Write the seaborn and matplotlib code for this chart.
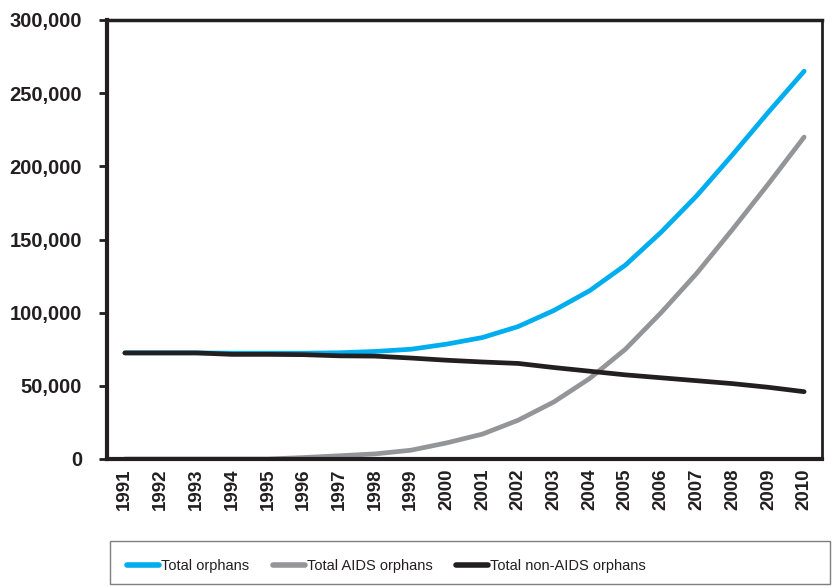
import matplotlib
matplotlib.use("Agg")
import matplotlib.pyplot as plt
import matplotlib.ticker as mticker
from matplotlib import font_manager
from matplotlib.patches import Rectangle
import numpy as np
import pandas as pd
import seaborn as sns

years = [str(y) for y in range(1991, 2011)]
total_orphans = [72500, 72500, 72500, 72300, 72300, 72300, 72600, 73500, 75000, 78500,
                 83000, 90500, 101500, 115000, 132500, 155000, 180000, 208000, 237000, 265000]
aids_orphans = [0, 0, 0, 0, 0, 1000, 2200, 3500, 6000, 11000,
                17000, 26500, 39000, 55000, 75000, 100000, 127000, 157000, 188000, 220000]
non_aids_orphans = [72500, 72500, 72500, 71500, 71500, 71300, 70500, 70300, 69000, 67500,
                    66300, 65300, 62500, 60000, 57500, 55500, 53500, 51500, 49000, 46000]
series_names = ["Total orphans", "Total AIDS orphans", "Total non-AIDS orphans"]
colors = ["#00AEEF", "#939598", "#231F20"]

df = pd.concat([
    pd.DataFrame({"year": np.arange(len(years)), "value": vals, "series": name})
    for name, vals in zip(series_names, [total_orphans, aids_orphans, non_aids_orphans])
])

sns.set_style("white")
plt.rcParams["font.family"] = ["Liberation Sans", "DejaVu Sans"]

installed = {f.name for f in font_manager.fontManager.ttflist}
if "Liberation Sans Narrow" in installed:
    legend_prop = {"family": "Liberation Sans Narrow", "size": 12.5}
else:
    legend_prop = {"family": "Liberation Sans", "size": 10.5}

fig = plt.figure(figsize=(8.32, 5.86), dpi=100)
ax = fig.add_axes([107 / 832, 1 - 459 / 586, 715 / 832, 439 / 586])

sns.lineplot(data=df, x="year", y="value", hue="series", hue_order=series_names,
             palette=colors, linewidth=3.4, ax=ax, legend=False,
             solid_capstyle="round")

ax.set_xlim(-0.5, len(years) - 0.5)
ax.set_ylim(0, 300000)
ax.set_xlabel("")
ax.set_ylabel("")

ax.yaxis.set_major_locator(mticker.MultipleLocator(50000))
ax.yaxis.set_major_formatter(mticker.FuncFormatter(lambda v, p: f"{int(v):,}"))
ax.set_xticks(np.arange(len(years)))
ax.set_xticklabels(years, rotation=90)
ax.set_xticks(np.arange(-0.5, len(years)), minor=True)

ax.tick_params(axis="x", which="major", length=0, pad=7, labelsize=13.5)
ax.tick_params(axis="x", which="minor", length=6, width=2, color="#231F20", direction="out")
ax.tick_params(axis="y", which="major", length=6, width=2, color="#231F20",
               direction="out", labelsize=14.5, pad=12, left=True)
for lab in ax.get_xticklabels() + ax.get_yticklabels():
    lab.set_fontweight("bold")
    lab.set_color("#231F20")

for side, lw in [("left", 3), ("bottom", 3), ("top", 2.5), ("right", 2)]:
    ax.spines[side].set_visible(True)
    ax.spines[side].set_color("#231F20")
    ax.spines[side].set_linewidth(lw)

# legend frame spanning the lower strip, entries packed to the left
fig.patches.append(Rectangle((110 / 832, 2 / 586), 720 / 832, 43 / 586,
                             transform=fig.transFigure, fill=False,
                             edgecolor="#7f7f7f", linewidth=1.0))
handles = [plt.Line2D([], [], color=c, linewidth=4, solid_capstyle="round") for c in colors]
leg = fig.legend(handles, series_names, loc="center left", ncol=3,
                 bbox_to_anchor=(127 / 832, 20 / 586),
                 frameon=False, handlelength=2.2, handletextpad=0.15,
                 columnspacing=1.6, borderaxespad=0, borderpad=0,
                 prop=legend_prop)
for t in leg.get_texts():
    t.set_color("#231F20")

fig.savefig("out.png", dpi=100)
